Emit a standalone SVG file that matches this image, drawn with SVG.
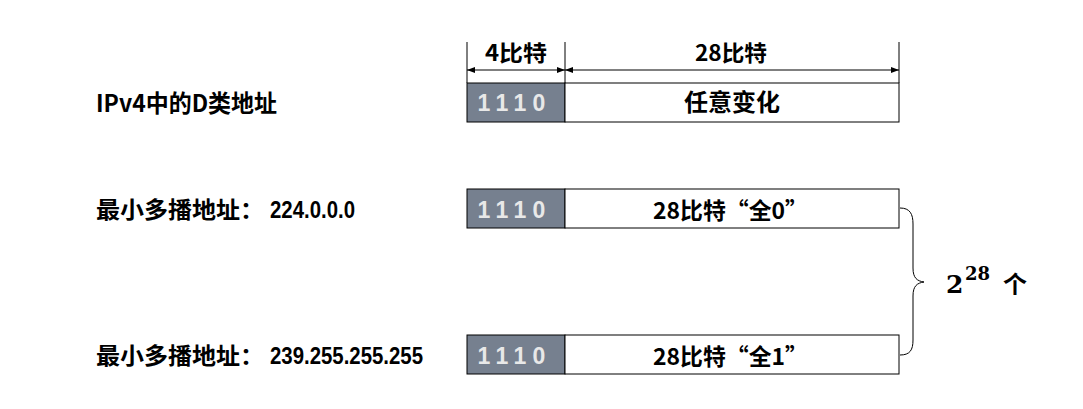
<svg xmlns="http://www.w3.org/2000/svg" width="1083" height="409" viewBox="0 0 1083 409">
<style>
.t{font-family:"Liberation Sans","Noto Sans CJK SC",sans-serif;font-weight:bold;fill:#000}
.cjk{font-family:"Noto Sans CJK SC","Liberation Sans",sans-serif;font-weight:bold;fill:#000}
.g{fill:#76808F;stroke:#000;stroke-width:1}
.w{fill:#fff;stroke:#000;stroke-width:1}
.d{font-family:"Liberation Sans",Arial,sans-serif;font-weight:bold;font-size:23px;fill:#E8E8E8;text-anchor:middle}
.ln{stroke:#000;stroke-width:1;fill:none}
.m{font-family:"DejaVu Serif",serif;font-weight:bold;fill:#000}
</style>
<defs>
<marker id="ah" viewBox="0 0 8 6" refX="8" refY="3" markerWidth="8" markerHeight="6" markerUnits="userSpaceOnUse" orient="auto-start-reverse">
<path d="M0,0 L8,3 L0,6 Z" fill="#000"/>
</marker>
</defs>
<rect width="1083" height="409" fill="#fff"/>
<g id="labels">
<text class="cjk" x="96" y="112" font-size="24" textLength="181" lengthAdjust="spacingAndGlyphs">IPv4中的D类地址</text>
<text class="cjk" x="96" y="218" font-size="23" textLength="168" lengthAdjust="spacingAndGlyphs">最小多播地址：</text>
<text class="t" x="270" y="218" font-size="24" textLength="85" lengthAdjust="spacingAndGlyphs">224.0.0.0</text>
<text class="cjk" x="96" y="364" font-size="23" textLength="168" lengthAdjust="spacingAndGlyphs">最小多播地址：</text>
<text class="t" x="270" y="364" font-size="24" textLength="153" lengthAdjust="spacingAndGlyphs">239.255.255.255</text>
</g>
<g id="dimensions">
<line class="ln" x1="467" y1="42" x2="467" y2="83"/>
<line class="ln" x1="565" y1="42" x2="565" y2="83"/>
<line class="ln" x1="899" y1="42" x2="899" y2="83"/>
<line class="ln" x1="467" y1="70" x2="565" y2="70" marker-start="url(#ah)" marker-end="url(#ah)"/>
<line class="ln" x1="565" y1="70" x2="899" y2="70" marker-start="url(#ah)" marker-end="url(#ah)"/>
<text class="cjk" x="485" y="61" font-size="22" textLength="62" lengthAdjust="spacingAndGlyphs">4比特</text>
<text class="cjk" x="695" y="61" font-size="22" textLength="72" lengthAdjust="spacingAndGlyphs">28比特</text>
</g>
<g id="row1">
<rect class="g" x="467" y="83" width="98" height="39"/>
<rect class="w" x="565" y="83" width="334" height="39"/>
<text class="d" y="111"><tspan x="484">1</tspan><tspan x="502">1</tspan><tspan x="520">1</tspan><tspan x="539">0</tspan></text>
<text class="cjk" x="732" y="111" font-size="24" text-anchor="middle">任意变化</text>
</g>
<g id="row2">
<rect class="g" x="467" y="189" width="98" height="39"/>
<rect class="w" x="565" y="189" width="334" height="39"/>
<text class="d" y="218"><tspan x="484">1</tspan><tspan x="502">1</tspan><tspan x="520">1</tspan><tspan x="539">0</tspan></text>
<text class="cjk" x="653" y="219" font-size="23" textLength="155" lengthAdjust="spacingAndGlyphs">28比特“全0”</text>
</g>
<g id="row3">
<rect class="g" x="467" y="335" width="98" height="39"/>
<rect class="w" x="565" y="335" width="334" height="39"/>
<text class="d" y="364"><tspan x="484">1</tspan><tspan x="502">1</tspan><tspan x="520">1</tspan><tspan x="539">0</tspan></text>
<text class="cjk" x="653" y="365" font-size="23" textLength="155" lengthAdjust="spacingAndGlyphs">28比特“全1”</text>
</g>
<g id="connectors">
<path class="ln" d="M900,208 C910,208 913,214 913,224 L913,268 C913,278 917,281 924,282 C917,283 913,286 913,296 L913,340 C913,350 910,355 900,355"/>
</g>
<g id="count">
<text class="m" x="946" y="293" font-size="25">2</text>
<text class="m" x="965" y="280" font-size="18">28</text>
<text class="cjk" x="1003" y="293" font-size="24">个</text>
</g>
</svg>
